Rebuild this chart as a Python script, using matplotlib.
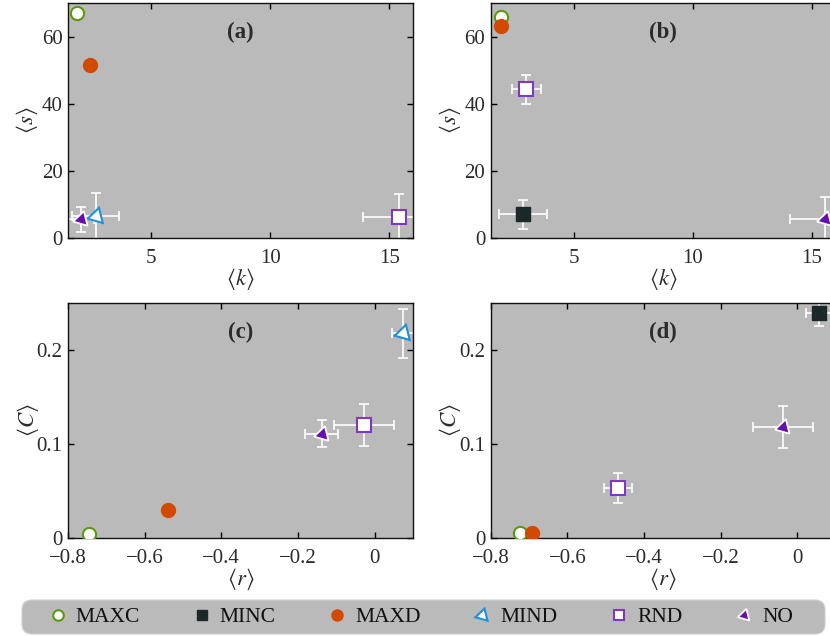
import numpy as np
import matplotlib
matplotlib.use("Agg")
import matplotlib.pyplot as plt
from matplotlib.lines import Line2D
from matplotlib.patches import FancyBboxPatch

plt.rcParams['font.family'] = ['Liberation Serif', 'DejaVu Serif']
plt.rcParams['mathtext.fontset'] = 'stix'
plt.rcParams['font.size'] = 15

nan = np.nan
series = ['MAXC', 'MINC', 'MAXD', 'MIND', 'RND', 'NO']

# panel (a): <k> vs <s>
k_a = [1.87, nan, 2.43, 2.66, 15.4, 2.05]
s_a = [67.0, nan, 51.5, 6.6, 6.3, 5.7]
kerr_a = [0, 0, 0, 1.0, 1.5, 0.56]
serr_a = [0, 0, 0, 7.0, 7.0, 3.7]

# panel (b): <k> vs <s>
k_b = [1.94, 2.85, 1.93, nan, 3.0, 15.55]
s_b = [65.9, 7.1, 63.2, nan, 44.3, 5.7]
kerr_b = [0, 1.0, 0, 0, 0.62, 1.45]
serr_b = [0, 4.3, 0, 0, 4.4, 6.6]

# panel (c): <r> vs <C>
r_c = [-0.745, nan, -0.539, 0.074, -0.027, -0.138]
C_c = [0.0046, nan, 0.0296, 0.2175, 0.120, 0.111]
rerr_c = [0, 0, 0, 0.03, 0.078, 0.043]
Cerr_c = [0, 0, 0, 0.026, 0.022, 0.014]

# panel (d): <r> vs <C>
r_d = [-0.724, 0.056, -0.692, nan, -0.468, -0.038]
C_d = [0.0056, 0.2387, 0.0056, nan, 0.0535, 0.118]
rerr_d = [0, 0.033, 0, 0, 0.036, 0.078]
Cerr_d = [0, 0.013, 0, 0, 0.0157, 0.0225]

tri = (3, 0, 104)
styles = {
    'MAXC': dict(marker='o', mfc='white', mec='#5b9a0c', ms=9.5, mew=1.5),
    'MINC': dict(marker='s', mfc='#1b2828', mec='#1b2828', ms=9.5, mew=1.0),
    'MAXD': dict(marker='o', mfc='#d24a02', mec='#d24a02', ms=10, mew=1.0),
    'MIND': dict(marker=tri, mfc='white', mec='#1f8fde', ms=13, mew=1.5),
    'RND':  dict(marker='s', mfc='white', mec='#8236c6', ms=9.5, mew=1.5),
    'NO':   dict(marker=tri, mfc='#6a0db0', mec='white', ms=12.5, mew=1.3),
}

BG = '#bababa'
TXT = '#2b2b2b'
W, H = 830, 636
fig = plt.figure(figsize=(W / 100, H / 100), dpi=100)

def pos(l, t, r, b):
    return [l / W, 1 - b / H, (r - l) / W, (b - t) / H]

axA = fig.add_axes(pos(68, 3, 413, 238.3))
axB = fig.add_axes(pos(490.7, 3, 835.7, 238.3))
axC = fig.add_axes(pos(68, 302.7, 413, 538.3))
axD = fig.add_axes(pos(490.7, 302.7, 835.7, 538.3))

panels = [
    (axA, k_a, s_a, kerr_a, serr_a, '(a)', r'$\langle k\rangle$', r'$\langle s\rangle$', 1),
    (axB, k_b, s_b, kerr_b, serr_b, '(b)', r'$\langle k\rangle$', r'$\langle s\rangle$', 1),
    (axC, r_c, C_c, rerr_c, Cerr_c, '(c)', r'$\langle r\rangle$', r'$\langle C\rangle$', -3),
    (axD, r_d, C_d, rerr_d, Cerr_d, '(d)', r'$\langle r\rangle$', r'$\langle C\rangle$', -3),
]

for ax, xs, ys, xe, ye, lab, xl, yl, ylp in panels:
    ax.set_facecolor(BG)
    for i, name in enumerate(series):
        if np.isnan(xs[i]):
            continue
        if xe[i] > 0 or ye[i] > 0:
            ax.errorbar([xs[i]], [ys[i]], xerr=[xe[i]], yerr=[ye[i]], fmt='none',
                        ecolor='white', elinewidth=1.2, capsize=3.5, capthick=1.2, zorder=2)
    for i, name in enumerate(series):
        if np.isnan(xs[i]):
            continue
        ax.plot([xs[i]], [ys[i]], linestyle='none', zorder=3 + i, **styles[name])
    ax.text(0.5, 0.875, lab, transform=ax.transAxes, ha='center', va='center',
            fontweight='bold', fontsize=16.5, color=TXT)
    ax.set_xlabel(xl, fontsize=16.5, labelpad=-1.5, color=TXT)
    ax.set_ylabel(yl, fontsize=16.5, labelpad=ylp, color=TXT)
    ax.tick_params(direction='in', top=True, right=True, length=4, width=1,
                   labelsize=15, labelcolor=TXT)
    ax.tick_params(axis='x', pad=8)
    ax.tick_params(axis='y', pad=4)
    for sp in ax.spines.values():
        sp.set_linewidth(1.0)
        sp.set_color('#111111')

for ax in (axA, axB):
    ax.set_xlim(1.5, 16)
    ax.set_ylim(0, 70)
    ax.set_xticks([5, 10, 15])
    ax.set_yticks([0, 20, 40, 60])
for ax in (axC, axD):
    ax.set_xlim(-0.8, 0.1)
    ax.set_ylim(0, 0.25)
    ax.set_xticks([-0.8, -0.6, -0.4, -0.2, 0])
    ax.set_xticklabels(['\u22120.8', '\u22120.6', '\u22120.4', '\u22120.2', '0'])
    ax.set_yticks([0, 0.1, 0.2])
    ax.set_yticklabels(['0', '0.1', '0.2'])

# legend background box
box = FancyBboxPatch((22 / W, 1 - 634 / H), 803 / W, 34 / H,
                     boxstyle='round,pad=0,rounding_size=0.012',
                     transform=fig.transFigure, facecolor=BG, edgecolor='#cfcfcf',
                     linewidth=0.8, mutation_aspect=W / H, zorder=0)
fig.patches.append(box)

handles = [Line2D([], [], linestyle='none', **styles[n]) for n in series]
leg = fig.legend(handles, series, loc='center', ncol=6,
                 bbox_to_anchor=(420 / W, 1 - 617 / H),
                 frameon=False, fontsize=15.5, handletextpad=0.35, borderaxespad=0,
                 markerscale=0.8, handlelength=1.0, columnspacing=2.35, borderpad=0.25)
for t in leg.get_texts():
    t.set_color('#111111')

fig.savefig('out.png', dpi=100)
